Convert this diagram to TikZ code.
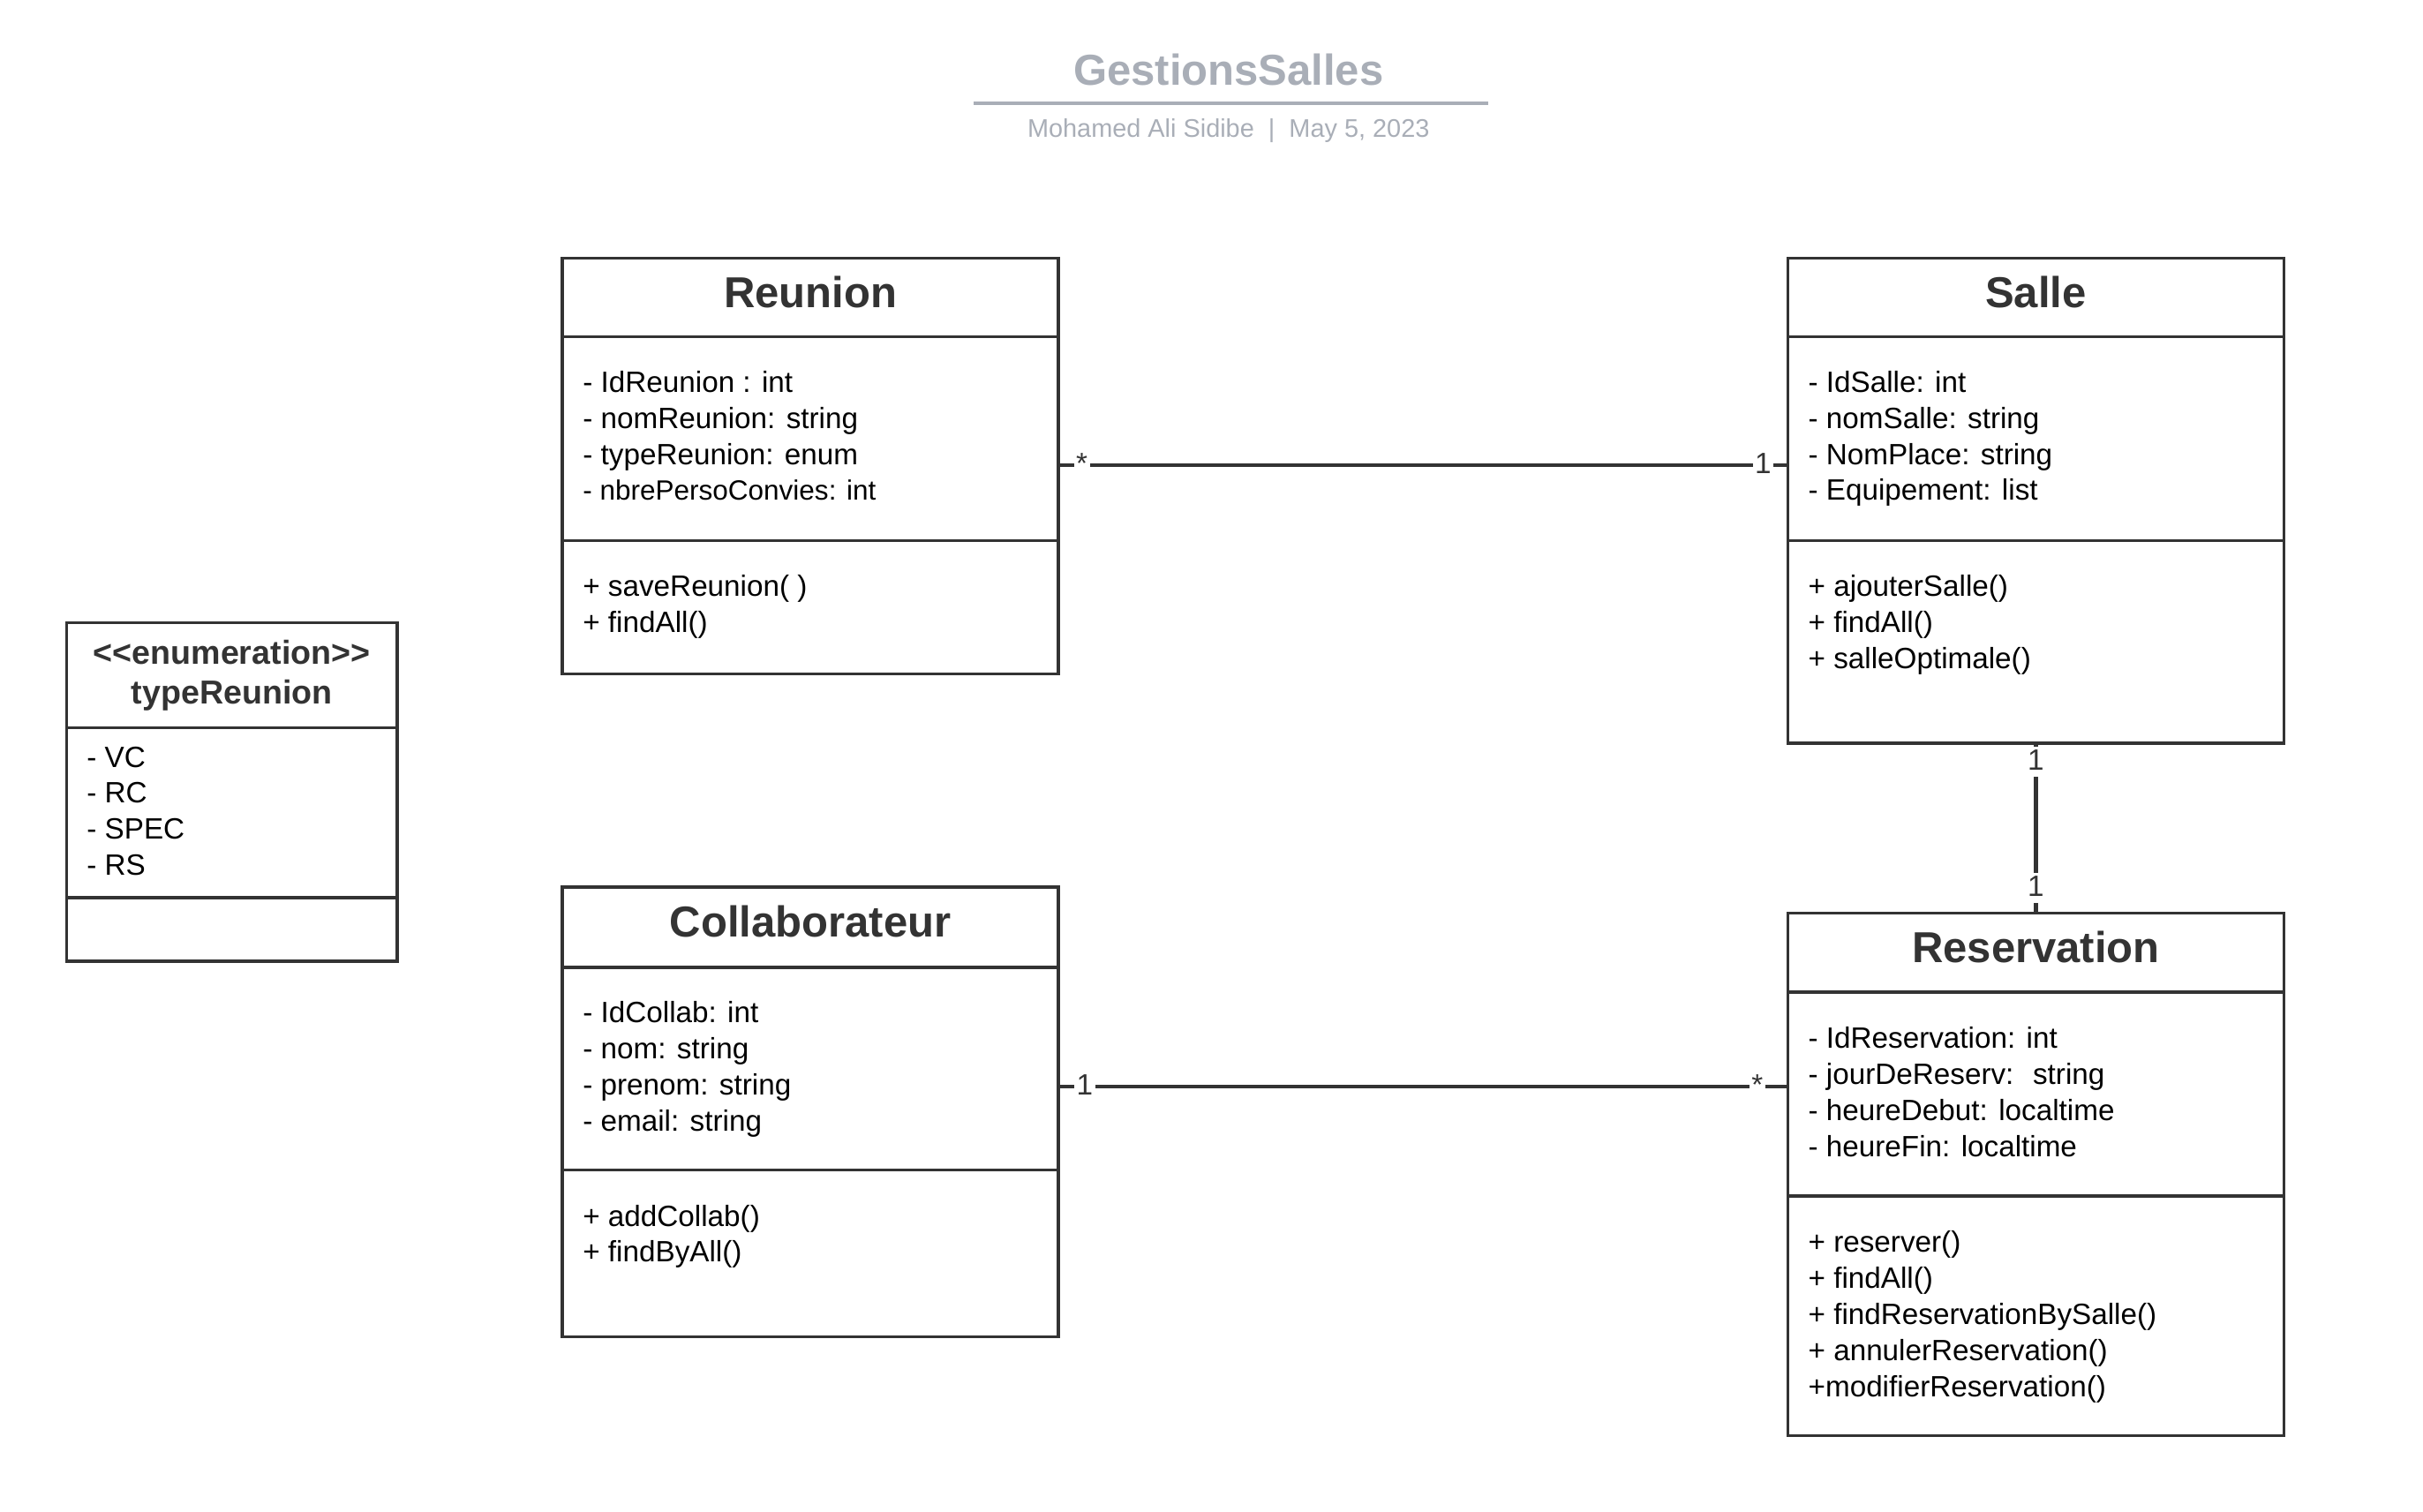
\documentclass[tikz,border=0pt]{standalone}
\usepackage{fontspec}
\setmainfont{Liberation Sans}
\usetikzlibrary{positioning}

\definecolor{umlline}{HTML}{333333}
\definecolor{titlegray}{HTML}{A9AEB7}

\tikzset{
  classhead/.style={draw=umlline, line width=2pt, outer sep=0pt, inner sep=0pt,
    anchor=north west, minimum width=321pt, minimum height=51pt, text=umlline,
    font=\bfseries\fontsize{28}{32}\selectfont, text height=20pt, text depth=7pt},
  classpart/.style={draw=umlline, line width=2pt, outer sep=0pt, inner sep=0pt,
    minimum width=321pt},
  members/.style={inner sep=0pt, align=left, anchor=north west,
    font=\fontsize{19}{23.3}\selectfont},
  assoc/.style={draw=umlline, line width=2.5pt},
  mult/.style={fill=white, inner sep=1.5pt, text=umlline,
    font=\fontsize{19}{21}\selectfont, text height=13.6pt, text depth=3pt},
}

\begin{document}
\begin{tikzpicture}[x=1pt,y=1pt]
\useasboundingbox (0,0) rectangle (1568,-978);

% title block
\node[text=titlegray, font=\bfseries\fontsize{28}{32}\selectfont] (title) at (795,-45) {GestionsSalles};
\draw[titlegray, line width=2.5pt] (630,-67) -- (963,-67);
\node[text=titlegray, font=\fontsize{16.5}{20}\selectfont] (subtitle) at (795,-84.5) {Mohamed Ali Sidibe~~|~~May 5, 2023};

% enumeration
\node[classhead, minimum width=214pt, minimum height=68pt, align=center, text height=, text depth=,
  font=\bfseries\fontsize{21.5}{26}\selectfont] (typereunion) at (43,-403) {<\kern0pt<enumeration>\kern0pt>\\typeReunion};
\node[classpart, minimum width=214pt, minimum height=110pt, below=0pt of typereunion] (typereunion-attr) {};
\node[classpart, minimum width=214pt, minimum height=41pt, below=0pt of typereunion-attr] (typereunion-ops) {};
\node[members, below right=12pt and 13pt of typereunion-attr.north west] (typereunion-attr-txt)
  {- VC\\- RC\\- SPEC\\- RS};

% Reunion
\node[classhead] (reunion) at (364,-167) {Reunion};
\node[classpart, minimum height=132pt, below=0pt of reunion] (reunion-attr) {};
\node[classpart, minimum height=86pt, below=0pt of reunion-attr] (reunion-ops) {};
\node[members, below right=22pt and 13pt of reunion-attr.north west] (reunion-attr-txt)
  {- IdReunion : int\\- nomReunion: string\\- typeReunion: enum\\{\fontsize{18}{23.3}\selectfont - nbrePersoConvies: int}};
\node[members, below right=22pt and 13pt of reunion-ops.north west] (reunion-ops-txt)
  {+ saveReunion( )\\+ findAll()};

% Salle
\node[classhead] (salle) at (1157,-167) {Salle};
\node[classpart, minimum height=132pt, below=0pt of salle] (salle-attr) {};
\node[classpart, minimum height=131pt, below=0pt of salle-attr] (salle-ops) {};
\node[members, below right=22pt and 13pt of salle-attr.north west] (salle-attr-txt)
  {- IdSalle: int\\- nomSalle: string\\- NomPlace: string\\- Equipement: list};
\node[members, below right=22pt and 13pt of salle-ops.north west] (salle-ops-txt)
  {+ ajouterSalle()\\+ findAll()\\+ salleOptimale()};

% Collaborateur
\node[classhead, minimum height=52pt] (collab) at (364,-574) {Collaborateur};
\node[classpart, minimum height=131pt, below=0pt of collab] (collab-attr) {};
\node[classpart, minimum height=108pt, below=0pt of collab-attr] (collab-ops) {};
\node[members, below right=22pt and 13pt of collab-attr.north west] (collab-attr-txt)
  {- IdCollab: int\\- nom: string\\- prenom: string\\- email: string};
\node[members, below right=22.5pt and 13pt of collab-ops.north west] (collab-ops-txt)
  {+ addCollab()\\+ findByAll()};

% Reservation
\node[classhead] (resa) at (1157,-591) {Reservation};
\node[classpart, minimum height=132pt, below=0pt of resa] (resa-attr) {};
\node[classpart, minimum height=155pt, below=0pt of resa-attr] (resa-ops) {};
\node[members, below right=22.5pt and 13pt of resa-attr.north west] (resa-attr-txt)
  {- IdReservation: int\\- jourDeReserv:~ string\\- heureDebut: localtime\\- heureFin: localtime};
\node[members, below right=22.5pt and 13pt of resa-ops.north west] (resa-ops-txt)
  {+ reserver()\\+ findAll()\\+ findReservationBySalle()\\+ annulerReservation()\\+modifierReservation()};

% associations
\draw[assoc] ([yshift=-17pt]reunion-attr.east) -- ([yshift=-17pt]salle-attr.west)
  node[mult, pos=0.032] (m-reunion) {*} node[mult, pos=0.966] (m-salle) {1};
\draw[assoc] ([yshift=-11.5pt]collab-attr.east) coordinate (cr) -- (cr -| resa-attr.west)
  node[mult, pos=0.036] (m-collab) {1} node[mult, pos=0.958] (m-resa) {*};
\draw[assoc] (salle-ops.south) -- (resa.north)
  node[mult, pos=0.11] (m-salle2) {1} node[mult, pos=0.85] (m-resa2) {1};
\end{tikzpicture}
\end{document}
